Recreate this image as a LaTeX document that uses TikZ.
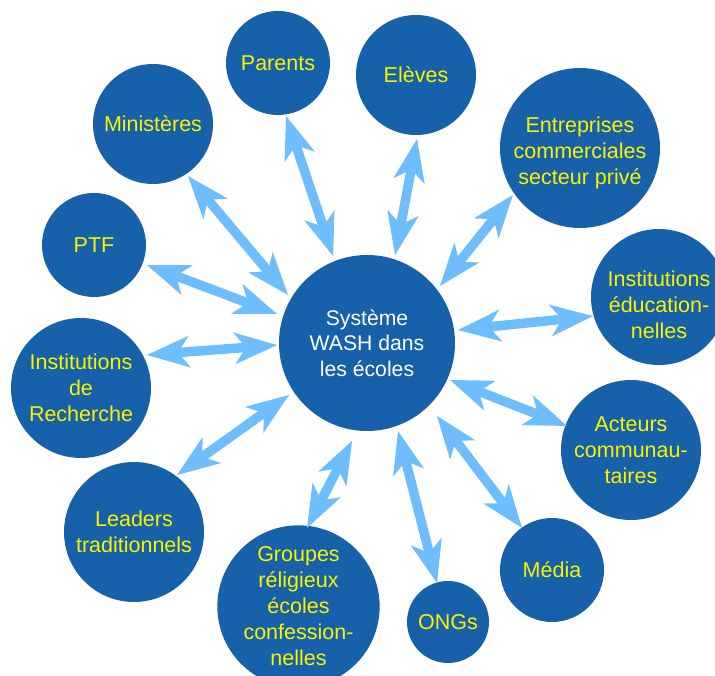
\documentclass[tikz,border=0pt]{standalone}
\usepackage{fontspec}
\setmainfont{Liberation Sans}
\usetikzlibrary{arrows.meta}
\definecolor{discblue}{RGB}{23,97,170}
\definecolor{arrowblue}{RGB}{110,190,255}
\definecolor{txtyellow}{RGB}{250,242,0}
\begin{document}
\begin{tikzpicture}[x=1pt,y=1pt,
  disc/.style={circle,fill=discblue,inner sep=0pt,minimum size=#1,text=txtyellow,
    align=center,font=\fontsize{21.5}{26}\selectfont},
  lowtext/.style 2 args={label={[align=center,text=txtyellow,font=\fontsize{21.5}{26}\selectfont,inner sep=0pt,yshift=#1]center:#2}},
  link/.style={line width=9.5pt,draw=arrowblue,
    {Stealth[length=43pt,width=32pt,inset=12pt,line width=0pt]}-{Stealth[length=43pt,width=32pt,inset=12pt,line width=0pt]}}]
\useasboundingbox (0,0) rectangle (715,675);
\node[disc=176pt,text=white,font=\fontsize{21.2}{25.5}\selectfont] (C) at (367,332) {Système\\WASH dans\\les écoles};
\node[disc=104pt] (P) at (278,612) {Parents};
\node[disc=120pt] (M) at (153,551) {Ministères};
\node[disc=104pt] (T) at (94,430) {PTF};
\node[disc=140pt] (R) at (81,287) {Institutions\\de\\Recherche};
\node[disc=140pt] (L) at (134,143) {Leaders\\traditionnels};
\node[disc=151pt] (G) at (298.5,68.5) {Groupes\\réligieux\\écoles\\confession-\\nelles};
\node[disc=82pt] (O) at (448,53) {ONGs};
\node[disc=104pt] (D) at (552,105) {Média};
\node[disc=140pt] (A) at (631,225) {Acteurs\\communau-\\taires};
\node[disc=136pt,lowtext={-8pt}{Institutions\\éducation-\\nelles}] (E) at (659,378) {};
\node[disc=160pt,lowtext={-5pt}{Entreprises\\commerciales\\secteur privé}] (N) at (580,527) {};
\node[disc=120pt] (V) at (416,600) {Elèves};
\draw[link] ([shift={(278.6:53.6pt)}]P.center) -- ([shift={(111.3:93.4pt)}]C.center);
\draw[link] ([shift={(303.9:62.7pt)}]M.center) -- ([shift={(148.7:92.4pt)}]C.center);
\draw[link] ([shift={(339.3:56.6pt)}]T.center) -- ([shift={(162.1:94.6pt)}]C.center);
\draw[link] ([shift={(26.6:73.8pt)}]R.center) -- ([shift={(181.3:90pt)}]C.center);
\draw[link] ([shift={(53:71.4pt)}]L.center) -- ([shift={(213.7:93.7pt)}]C.center);
\draw[link] ([shift={(83.8:79pt)}]G.center) -- ([shift={(261.3:99pt)}]C.center);
\draw[link] ([shift={(105.8:40.5pt)}]O.center) -- ([shift={(289.4:93.3pt)}]C.center);
\draw[link] ([shift={(125.5:51.6pt)}]D.center) -- ([shift={(313.8:101pt)}]C.center);
\draw[link] ([shift={(159.4:68.4pt)}]A.center) -- ([shift={(336:90.9pt)}]C.center);
\draw[link] ([shift={(196.1:68.7pt)}]E.center) -- ([shift={(8.1:91.9pt)}]C.center);
\draw[link] ([shift={(215:81.8pt)}]N.center) -- ([shift={(38:92.6pt)}]C.center);
\draw[link] ([shift={(270.9:64pt)}]V.center) -- ([shift={(72.3:92.3pt)}]C.center);
\end{tikzpicture}
\end{document}
